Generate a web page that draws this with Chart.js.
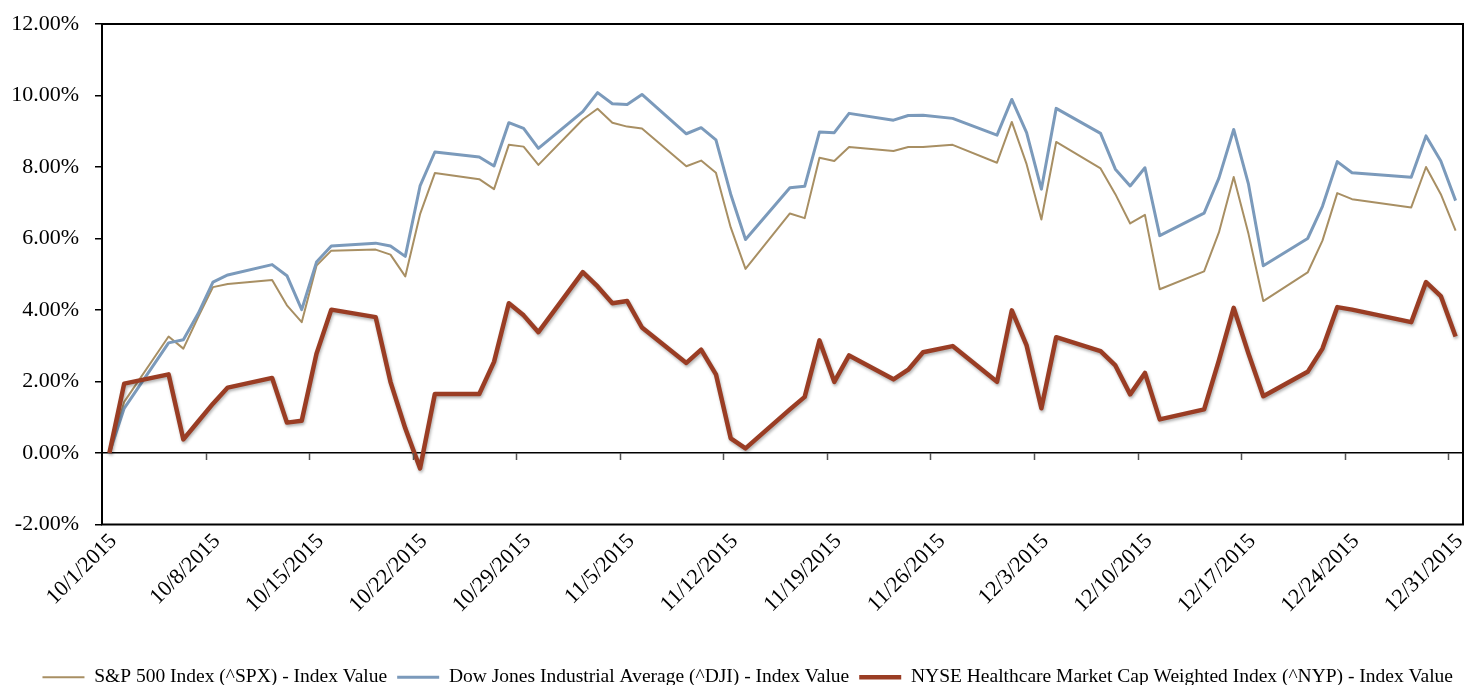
<!DOCTYPE html>
<html lang="en">
  <head>
    <meta charset="UTF-8">
    <title>Index Value Comparison Q4 2015</title>
    <script src="https://cdn.jsdelivr.net/npm/chart.js@4"></script>
    <style>
      body { margin: 0; background: #fff; }
      #wrap { width: 1465px; height: 685px; }
    </style>
  </head>
  <body>
    <div id="wrap"><canvas id="chart"></canvas></div>
    <script type="text/javascript">
      // trading days, Oct 1 - Dec 31 2015
      const dates = [
        '10/1/2015', '10/2/2015', '10/5/2015', '10/6/2015', '10/7/2015', '10/8/2015', '10/9/2015',
        '10/12/2015', '10/13/2015', '10/14/2015', '10/15/2015', '10/16/2015',
        '10/19/2015', '10/20/2015', '10/21/2015', '10/22/2015', '10/23/2015',
        '10/26/2015', '10/27/2015', '10/28/2015', '10/29/2015', '10/30/2015',
        '11/2/2015', '11/3/2015', '11/4/2015', '11/5/2015', '11/6/2015',
        '11/9/2015', '11/10/2015', '11/11/2015', '11/12/2015', '11/13/2015',
        '11/16/2015', '11/17/2015', '11/18/2015', '11/19/2015', '11/20/2015',
        '11/23/2015', '11/24/2015', '11/25/2015', '11/27/2015', '11/30/2015',
        '12/1/2015', '12/2/2015', '12/3/2015', '12/4/2015',
        '12/7/2015', '12/8/2015', '12/9/2015', '12/10/2015', '12/11/2015',
        '12/14/2015', '12/15/2015', '12/16/2015', '12/17/2015', '12/18/2015',
        '12/21/2015', '12/22/2015', '12/23/2015', '12/24/2015',
        '12/28/2015', '12/29/2015', '12/30/2015', '12/31/2015'
      ]

      const spx = [
        0, 1.43, 3.26, 2.92, 3.80, 4.64, 4.73,
        4.84, 4.13, 3.66, 5.24, 5.66,
        5.69, 5.55, 4.94, 6.68, 7.83,
        7.66, 7.38, 8.62, 8.57, 8.06,
        9.33, 9.63, 9.24, 9.13, 9.08,
        8.02, 8.18, 7.84, 6.31, 5.15,
        6.70, 6.57, 8.26, 8.17, 8.56,
        8.45, 8.56, 8.56, 8.62, 8.12,
        9.26, 8.08, 6.53, 8.70,
        7.96, 7.24, 6.42, 6.66, 4.58,
        5.08, 6.17, 7.72, 6.13, 4.25,
        5.05, 5.94, 7.27, 7.10,
        6.87, 8.00, 7.24, 6.22
      ]

      const dji = [
        0, 1.25, 3.08, 3.17, 3.90, 4.78, 4.98,
        5.27, 4.96, 4.01, 5.34, 5.79,
        5.87, 5.79, 5.50, 7.47, 8.42,
        8.28, 8.03, 9.24, 9.08, 8.52,
        9.55, 10.08, 9.77, 9.75, 10.03,
        8.93, 9.10, 8.76, 7.24, 5.97,
        7.42, 7.46, 8.98, 8.96, 9.50,
        9.31, 9.44, 9.45, 9.36, 8.89,
        9.89, 8.96, 7.38, 9.64,
        8.94, 7.94, 7.47, 7.98, 6.08,
        6.71, 7.69, 9.05, 7.52, 5.24,
        6.00, 6.90, 8.15, 7.84,
        7.71, 8.87, 8.17, 7.06
      ]

      const nyp = [
        0, 1.94, 2.20, 0.38, 0.88, 1.38, 1.83,
        2.10, 0.85, 0.90, 2.78, 4.01,
        3.80, 1.99, 0.69, -0.43, 1.65,
        1.65, 2.55, 4.19, 3.85, 3.38,
        5.06, 4.66, 4.19, 4.25, 3.51,
        2.52, 2.89, 2.20, 0.41, 0.13,
        1.22, 1.57, 3.15, 1.99, 2.73,
        2.06, 2.33, 2.82, 2.99, 1.99,
        3.99, 3.01, 1.25, 3.24,
        2.85, 2.45, 1.64, 2.24, 0.94,
        1.22, 2.59, 4.06, 2.78, 1.59,
        2.27, 2.92, 4.08, 4.01,
        3.66, 4.78, 4.39, 3.26
      ]

      const tickLabels = [
        '10/1/2015', '10/8/2015', '10/15/2015', '10/22/2015', '10/29/2015', '11/5/2015', '11/12/2015',
        '11/19/2015', '11/26/2015', '12/3/2015', '12/10/2015', '12/17/2015', '12/24/2015', '12/31/2015'
      ]

      const seriesNames = [
        'S&P 500 Index (^SPX) - Index Value',
        'Dow Jones Industrial Average (^DJI) - Index Value',
        'NYSE Healthcare Market Cap Weighted Index (^NYP) - Index Value'
      ]

      // day number counted from the first date
      function dayOf(s) {
        const [m, d, y] = s.split('/').map(Number)
        return Date.UTC(y, m - 1, d) / 86400000
      }
      const start = dayOf(dates[0])
      const toDay = s => dayOf(s) - start
      const points = vals => vals.map((v, i) => ({ x: toDay(dates[i]), y: v }))
      const tickDays = tickLabels.map(toDay)

      const tickFont = { family: "'Liberation Serif', serif", size: 22 }
      const legendFont = { family: "'Liberation Serif', serif", size: 19.5 }

      const boxPlugin = {
        id: 'box',
        afterDraw(chart) {
          const { ctx, chartArea: a, scales } = chart
          ctx.save()
          // small tick marks hanging off the 0% line, between the date labels
          const y0 = scales.y.getPixelForValue(0)
          ctx.strokeStyle = '#555'
          ctx.lineWidth = 1.5
          ctx.beginPath()
          tickDays.slice(0, -1).forEach(d => {
            const x = Math.round(scales.x.getPixelForValue(d + 6.5)) + 0.5
            ctx.moveTo(x, y0)
            ctx.lineTo(x, y0 + 7)
          })
          ctx.stroke()
          ctx.strokeStyle = '#000'
          ctx.lineWidth = 2
          ctx.strokeRect(a.left, a.top, a.right - a.left, a.bottom - a.top)
          ctx.restore()
        }
      }

      const shadowPlugin = {
        id: 'shadow',
        beforeDatasetDraw(chart, args) {
          if (args.index !== 2) return
          const ctx = chart.ctx
          ctx.save()
          ctx.shadowColor = 'rgba(0,0,0,0.3)'
          ctx.shadowBlur = 3
          ctx.shadowOffsetX = 1
          ctx.shadowOffsetY = 2
        },
        afterDatasetDraw(chart, args) {
          if (args.index === 2) chart.ctx.restore()
        }
      }

      Chart.defaults.font.family = tickFont.family
      Chart.defaults.color = '#000'

      const ctx = document.getElementById('chart').getContext('2d')
      const chart = new Chart(ctx, {
        type: 'line',
        data: {
          datasets: [
            {
              label: seriesNames[0],
              data: points(spx),
              borderColor: '#a88f63',
              backgroundColor: '#a88f63',
              borderWidth: 2,
              pointRadius: 0,
              tension: 0,
              borderJoinStyle: 'round',
              order: 3
            },
            {
              label: seriesNames[1],
              data: points(dji),
              borderColor: '#7b9abb',
              backgroundColor: '#7b9abb',
              borderWidth: 3,
              pointRadius: 0,
              tension: 0,
              borderJoinStyle: 'round',
              order: 2
            },
            {
              label: seriesNames[2],
              data: points(nyp),
              borderColor: '#9a3d24',
              backgroundColor: '#9a3d24',
              borderWidth: 4.5,
              pointRadius: 0,
              tension: 0,
              borderJoinStyle: 'round',
              order: 1
            }
          ]
        },
        options: {
          responsive: true,
          maintainAspectRatio: false,
          animation: false,
          layout: { padding: { left: 8, right: 2, top: 24, bottom: -12 } },
          scales: {
            x: {
              type: 'linear',
              min: -0.5,
              max: tickDays[tickDays.length - 1] + 0.5,
              afterBuildTicks: scale => {
                scale.ticks = tickDays.map(v => ({ value: v }))
              },
              afterFit: scale => {
                scale.height = 133
                scale.paddingRight = 0
              },
              ticks: {
                font: tickFont,
                color: '#000',
                minRotation: 45,
                maxRotation: 45,
                autoSkip: false,
                padding: -4,
                labelOffset: 4,
                callback: (v) => tickLabels[tickDays.indexOf(v)]
              },
              grid: { display: false },
              border: { display: false }
            },
            y: {
              min: -2,
              max: 12,
              afterFit: scale => {
                scale.width = 94
                scale.paddingTop = 0
                scale.paddingBottom = 0
              },
              ticks: {
                stepSize: 2,
                font: tickFont,
                color: '#000',
                padding: 16,
                callback: v => v.toFixed(2) + '%'
              },
              grid: {
                drawOnChartArea: true,
                color: c => (c.tick && c.tick.value === 0 ? '#000' : 'rgba(0,0,0,0)'),
                lineWidth: 1.5,
                tickColor: '#000',
                tickLength: 7
              },
              border: { display: false }
            }
          },
          plugins: {
            legend: {
              position: 'bottom',
              align: 'end',
              labels: {
                font: legendFont,
                color: '#000',
                usePointStyle: true,
                pointStyle: 'line',
                pointStyleWidth: 42,
                boxHeight: 19,
                padding: 10,
                sort: (a, b) => a.datasetIndex - b.datasetIndex
              }
            },
            tooltip: { enabled: false }
          }
        },
        plugins: [boxPlugin, shadowPlugin]
      })
    </script>
  </body>
</html>
